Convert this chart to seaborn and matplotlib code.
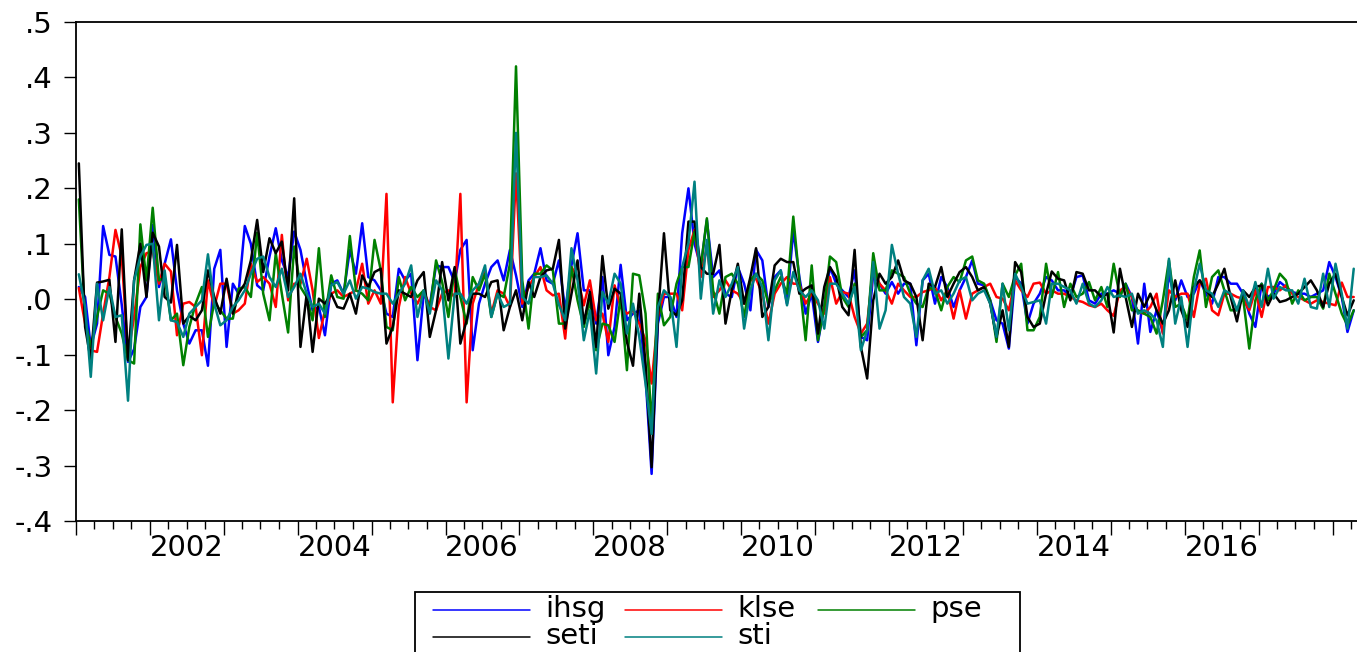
import pandas as pd
import matplotlib
matplotlib.use("Agg")
import matplotlib.pyplot as plt
import matplotlib.dates as mdates
from matplotlib.lines import Line2D
from matplotlib.patches import Rectangle
import seaborn as sns

# monthly returns, 2001M01 - 2018M04
ihsg = [.022, .004, -.086, -.044, .132, .080, .077, -.010, -.113, -.090,
        -.014, .004, .134, .022, .064, .108, .016, -.044, -.080, -.056,
        -.056, -.120, .055, .089, -.086, .028, .010, .132, .100, .025,
        .016, .077, .128, .070, .040, .122, .089, .028, -.020, -.014,
        -.065, .028, .034, .010, .089, .046, .137, .040, .034, .016,
        -.026, -.032, .055, .034, .046, -.110, .010, -.011, .061, .058,
        .058, .031, .089, .107, -.092, -.008, .028, .058, .070, .034,
        .089, .043, -.014, .034, .046, .092, .034, .028, .070, -.020,
        .061, .119, .016, .016, -.044, .040, -.101, -.050, .062, -.038,
        -.026, -.020, -.140, -.315, -.044, .004, .004, -.032, .119, .200,
        .100, .058, .143, .040, .052, .010, .004, .058, .028, -.020,
        .089, .070, -.014, .040, .052, -.008, .125, .040, -.026, .010,
        -.077, -.014, .058, .028, .016, .004, .052, -.068, -.074, .046,
        .028, .010, .031, .010, .028, .028, -.083, .034, .046, -.008,
        .040, .022, -.014, .016, .040, .070, .028, .025, -.002, -.038,
        -.044, -.089, .040, .028, -.044, -.008, .010, .040, .034, .016,
        .016, .004, .040, .043, -.002, -.008, .010, .010, .016, .010,
        .028, .004, -.080, .028, -.059, -.020, -.060, .046, -.002, .034,
        .004, .010, .034, .010, -.008, .040, .040, .028, .028, .010,
        -.026, -.050, .028, .004, .010, .031, .022, .013, .010, .010,
        .004, .010, .016, .067, .040, .004, -.059, -.020]

klse = [.020, -.044, -.092, -.095, -.026, .040, .125, .077, -.100, -.032,
        .058, .083, .086, .028, .064, .050, -.065, -.008, -.005, -.014,
        -.101, .034, -.014, .028, .028, -.026, -.020, -.008, .064, .031,
        .040, .028, -.014, .116, -.002, .028, .028, .073, .016, -.070,
        -.020, .010, .016, .004, .010, .016, .064, -.008, .016, -.008,
        .190, -.186, -.014, .040, .010, -.008, .016, -.014, -.020, .010,
        .016, .004, .190, -.186, -.008, .028, .052, -.026, .016, .010,
        -.014, .227, -.008, .022, .040, .058, .016, .007, .010, -.071,
        .058, .040, -.011, .034, -.038, -.026, -.077, .025, -.014, -.026,
        -.020, -.044, -.074, -.152, -.032, .010, .010, .010, -.020, .089,
        .125, .040, .095, .004, .016, .034, .016, .010, -.008, .034,
        .037, .010, -.044, .010, .028, .040, .028, .028, -.008, .010,
        -.008, -.026, .040, -.008, .013, .010, -.032, -.062, -.044, .058,
        .028, .016, -.008, .028, .016, .004, .004, .013, .016, .022,
        -.002, .016, -.035, .016, -.035, .010, .016, .022, .028, .004,
        .001, -.020, .034, .016, .004, .028, .030, .010, .016, .010,
        .010, .004, -.002, -.005, -.011, -.014, -.008, -.020, -.030, .016,
        .022, .004, -.023, -.026, -.014, .010, -.062, .016, .004, .010,
        .010, -.032, .028, .037, -.020, -.029, .010, .010, .004, .001,
        -.020, .016, -.032, .022, .022, .016, .025, .010, .004, -.002,
        -.008, -.002, -.005, -.008, -.011, .030, .004, .004]

pse = [.180, -.038, -.086, -.032, .016, .010, -.032, -.062, -.110, -.116,
       .135, .034, .165, .034, .040, -.038, -.026, -.119, -.050, -.008,
       .022, -.068, -.005, -.020, -.035, -.035, .019, .022, .004, .120,
       .010, -.038, .083, .010, -.060, .095, .022, .004, -.038, .092,
       -.032, .043, .004, .001, .114, .016, .010, -.002, .107, .052,
       -.050, -.056, .040, -.002, .022, .004, .016, -.020, .070, .031,
       -.032, .055, .004, -.044, .040, .016, .046, -.032, .010, .004,
       .064, .420, .034, -.053, .046, .046, .061, .052, -.044, -.044,
       .058, -.002, -.050, -.002, -.092, -.044, -.047, -.077, .004, -.128,
       .046, .043, -.026, -.231, .010, -.047, -.032, .028, .058, .058,
       .122, .058, .146, .016, -.026, .040, .046, .028, -.032, .034,
       .046, .034, -.008, .016, .040, .010, .149, .034, -.074, .061,
       -.074, -.014, .077, .067, .004, -.014, .028, -.068, -.056, .083,
       .016, .016, .052, .046, .040, .010, -.008, -.014, .022, .016,
       -.020, .022, .040, .031, .070, .077, .034, .028, -.002, -.077,
       .028, .004, .043, .064, -.056, -.056, -.032, .064, .004, .049,
       -.014, .028, .004, .010, .031, -.002, .022, -.014, .064, .004,
       .028, -.020, -.020, -.026, -.032, -.062, -.002, .070, -.014, -.008,
       -.038, .040, .088, -.014, .040, .052, .016, -.020, -.020, .004,
       -.089, -.002, .028, -.002, .016, .046, .034, -.008, .016, -.002,
       .004, .004, -.017, .046, .010, -.026, -.047, -.020]

seti = [.245, -.050, -.110, .030, .032, .035, -.077, .126, -.110, .034,
        .100, .004, .120, .095, .004, -.006, .098, -.044, -.030, -.038,
        -.020, .052, .004, -.026, .037, -.026, .010, .028, .070, .143,
        .049, .110, .083, .104, .016, .182, -.086, .010, -.095, .001,
        -.008, .010, -.014, -.017, .010, -.026, .043, .022, .049, .055,
        -.080, -.050, .016, .010, .004, .034, .049, -.068, -.020, .067,
        -.002, .058, -.080, -.038, .010, .010, .004, .031, .034, -.056,
        -.014, .016, -.038, .031, .004, .040, .052, .055, .107, -.053,
        .010, .070, -.044, .013, -.086, .078, -.017, .019, .010, -.077,
        -.120, .010, -.116, -.303, -.032, .119, -.020, -.029, -.002, .140,
        .140, .058, .046, .046, .098, -.044, .016, .064, -.008, .040,
        .092, -.032, -.014, .061, .073, .067, .067, .010, .019, .025,
        -.062, .022, .058, .040, -.014, -.029, .089, -.086, -.143, -.002,
        .046, .028, .040, .070, .034, .028, .004, -.074, .028, .022,
        .058, .004, .028, .049, .058, .040, .016, .022, -.008, -.068,
        -.020, -.086, .067, .049, -.032, -.050, -.044, .010, .050, .037,
        .034, -.002, .049, .046, .016, .016, .004, .010, -.060, .055,
        .004, -.050, .010, -.014, .010, -.020, -.044, -.020, .034, -.020,
        -.050, .022, .034, .016, .004, .028, .055, .004, -.040, .016,
        .004, .022, .025, -.011, .010, -.005, -.002, .004, .010, .022,
        .034, .016, -.014, .028, .046, .004, -.029, -.002]

sti = [.045, -.014, -.140, .028, -.038, .022, -.032, -.029, -.183, .034,
       .077, .098, .100, -.038, .052, -.038, -.041, -.068, -.026, -.014,
       -.002, .081, -.008, -.047, -.038, -.014, -.002, .016, .046, .073,
       .077, .040, .022, .055, .004, .022, .046, .010, -.014, -.008,
       -.026, .025, .031, .010, .034, .001, .022, .019, .013, .010,
       .010, -.008, .010, .028, .061, -.032, .016, -.026, .034, .016,
       -.107, .010, .010, -.008, .016, .028, .061, -.032, .010, -.014,
       -.008, .300, .004, -.008, .040, .040, .043, .028, -.010, -.038,
       .092, .034, -.074, -.020, -.134, .013, -.008, .046, .028, -.062,
       -.008, -.068, -.152, -.243, -.014, .016, .004, -.086, .058, .101,
       .212, .001, .107, -.026, .034, .004, .028, .058, -.053, .016,
       .046, .022, -.074, .034, .052, -.011, .049, .016, .004, .016,
       -.002, -.053, .028, .028, .010, -.008, .022, -.092, -.056, .067,
       -.053, -.020, .098, .046, .004, -.008, -.068, .034, .055, .010,
       .016, -.008, .010, .034, .040, -.002, .010, .016, -.008, -.068,
       .028, -.056, .046, .022, -.008, -.005, -.002, -.044, .028, .028,
       .022, .016, -.008, .028, -.008, -.014, -.002, .022, .004, .007,
       .004, .010, -.026, -.020, -.026, -.038, -.086, .073, -.044, .004,
       -.086, .016, .064, .016, .010, -.014, .016, .010, -.020, .016,
       -.014, .031, -.014, .055, .001, .022, .016, .016, -.008, .037,
       -.014, -.017, .046, -.014, .064, .010, -.053, .055]

names = ["ihsg", "klse", "pse", "seti", "sti"]
colors = ["#0000FF", "#FF0000", "#008000", "#000000", "#008080"]
year_labels = ["2002", "2004", "2006", "2008", "2010", "2012", "2014", "2016"]

sns.set_theme(style="ticks")
plt.rcParams['font.family'] = ['DejaVu Sans']
plt.rcParams['text.color'] = 'black'
plt.rcParams['xtick.labelcolor'] = 'black'
plt.rcParams['ytick.labelcolor'] = 'black'

W, H = 1357, 652
dates = pd.date_range("2001-01-01", periods=len(ihsg), freq="MS") + pd.Timedelta(days=14)
df = pd.DataFrame({"date": dates, "ihsg": ihsg, "klse": klse,
                   "pse": pse, "seti": seti, "sti": sti})
long_df = df.melt(id_vars="date", var_name="series", value_name="ret")

fig = plt.figure(figsize=(W / 100, H / 100), dpi=100)
ax = fig.add_axes([76 / W, 1 - 521 / H, (1360 - 76) / W, (521 - 22) / H])

sns.lineplot(data=long_df, x="date", y="ret", hue="series", hue_order=names,
             palette=colors, linewidth=1.8, legend=False, ax=ax)

ax.set_xlim(pd.Timestamp("2001-01-01"), pd.Timestamp("2018-05-16"))
ax.set_ylim(-0.4, 0.5)
ax.set_xlabel("")
ax.set_ylabel("")

# y axis: EViews style labels
yt = [-0.4, -0.3, -0.2, -0.1, 0.0, 0.1, 0.2, 0.3, 0.4, 0.5]
ax.set_yticks(yt)
ax.set_yticklabels([f"{v:.1f}".replace("0.", ".") for v in yt], fontsize=21, color="black")

# x axis: year ticks, quarter minor ticks, labels centred on every other year
ax.xaxis.set_major_locator(mdates.YearLocator())
ax.xaxis.set_minor_locator(mdates.MonthLocator(bymonth=[4, 7, 10]))
ax.xaxis.set_major_formatter(plt.NullFormatter())
for lab in year_labels:
    ax.text(pd.Timestamp(f"{lab}-07-01"), -0.055, lab, fontsize=21, color="black",
            ha="center", va="center", transform=ax.get_xaxis_transform())

ax.tick_params(axis="x", which="major", direction="out", length=10, width=1, color="black")
ax.tick_params(axis="x", which="minor", direction="out", length=5.5, width=1, color="black")
ax.tick_params(axis="y", direction="out", length=9, width=1, color="black", pad=8)

for side in ["left", "top", "bottom"]:
    ax.spines[side].set_color("black")
    ax.spines[side].set_linewidth(1.3)
ax.spines["right"].set_visible(False)

# legend box, laid out in pixels like the original
fig.add_artist(Rectangle((415 / W, 1 - 662 / H), (1020 - 415) / W, 70 / H,
                         transform=fig.transFigure, fill=False,
                         edgecolor="black", linewidth=1.3))
slots = [(433, 610), (625, 610), (818, 610), (433, 637), (625, 637)]
for (x0, y0), name, col in zip(slots, names, colors):
    fig.add_artist(Line2D([x0 / W, (x0 + 97) / W], [1 - y0 / H, 1 - y0 / H],
                          transform=fig.transFigure, color=col, linewidth=1.1))
    fig.text((x0 + 112) / W, 1 - (y0 - 1) / H, name, fontsize=21, color="black",
             ha="left", va="center")

fig.savefig("out.png", dpi=100)
